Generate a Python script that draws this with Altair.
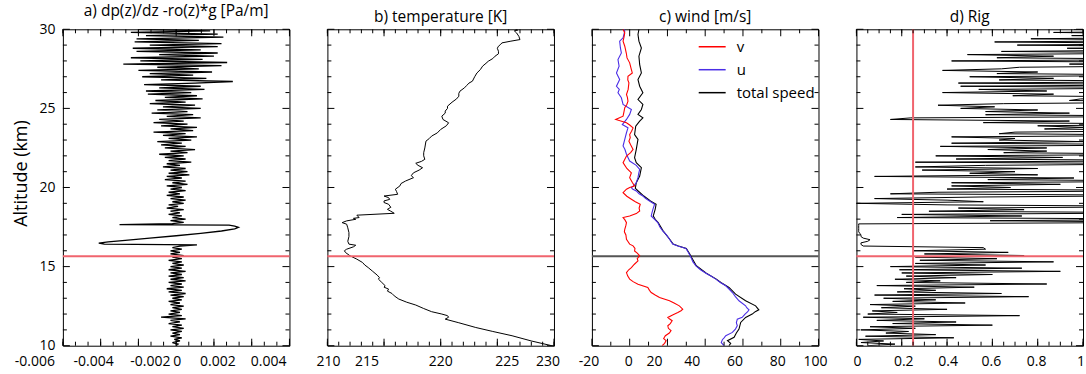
import altair as alt
import pandas as pd

W, H = 227, 317
FONT = "Open Sans"
TROP = 15.65
RED = "#f0646e"

# ---------------- panel a: dp/dz - rho*g  (values in 1e-4 Pa/m) ----------------
a_low_raw = [0, 1, -2, 2, -1, 3, -3, 2, -2, 3,
             -3, 4, -2, 3, -4, 2, -3, 5, -8, 3,
             -4, 2, -3, 3, -2, 4, -3, 2, -4, 3,
             -2, 4, -3, 5, -4, 3, -5, 4, -3, 3,
             -4, 5, -3, 4, -4, 3, -3, 5, -4, 3,
             -3, 4, -2, 3, -4, 3, -2, 4, -3, 2,
             -3, 3, -2, 2]
a_low_alt = [round(10 + 0.1 * i, 2) for i in range(len(a_low_raw))]
a_s_alt = [16.37, 16.42, 16.48, 16.56, 16.66, 16.8, 16.95, 17.1, 17.25, 17.38,
           17.48, 17.56, 17.62, 17.65, 17.72]
a_s_raw = [11, -38, -41, -36, -27, -14, 0, 13, 24, 31, 33, 31, 28, -30, -2]
a_high_raw = [4, -3,
              5, -2, 3, -4, 2, -3, 4, -5, 1, -4,
              4, -2, 5, -3, 4, -5, 2, -4, 5, -3,
              3, -5, 6, -2, 5, -6, 3, -5, 7, -4,
              6, -3, 5, -7, 2, -5, 8, -4, 5, -6,
              4, -9, 6, -3, 10, -6, 5, -8, 3, -10,
              8, -4, 11, -7, 5, -12, 9, -3, 11, -8,
              6, -12, 4, -9, 13, -5, 9, -13, 6, -10,
              13, -7, 10, -14, 5, -11, 14, -6, 11, -15,
              8, -16, 15, -9, 13, -17, 10, 30, -8, 16,
              -18, 9, -14, 19, -20, 12, -10, 24, -28, 27,
              -19, 14, -24, 20, -9, 22, -21, 13, -23, 22,
              -14, 24, -22, 12, -21, 25, -16, 22, -24, 18,
              -20]
a_high_alt = [round(17.8 + 0.1 * i, 2) for i in range(len(a_high_raw))]
a_alt = a_low_alt + a_s_alt + a_high_alt
a_val = [v * 1e-4 for v in a_low_raw + a_s_raw + a_high_raw]

# ---------------- panel b: temperature ----------------
t_alt = [10.0, 10.3, 10.63, 10.9, 11.15, 11.45, 11.68, 11.8, 11.9, 12.0, 12.15, 12.35, 12.57, 12.75,
         12.95, 13.15, 13.3, 13.45, 13.58, 13.7, 13.79, 14.0, 14.21, 14.3, 14.46, 14.7, 14.94, 15.1,
         15.26, 15.47, 15.68, 15.89, 16.0, 16.1, 16.25, 16.35, 16.42, 16.6, 16.9, 17.15, 17.45,
         17.68, 17.78, 17.89, 17.99, 18.05, 18.1, 18.25, 18.37, 18.5, 18.62, 18.75, 18.94, 19.05,
         19.15, 19.25, 19.36, 19.46, 19.57, 19.75, 19.89, 20.1, 20.25, 20.41, 20.62, 20.75, 20.93,
         21.1, 21.25, 21.4, 21.53, 21.65, 21.78, 22.0, 22.2, 22.5, 22.93, 23.1, 23.25, 23.45, 23.67,
         23.9, 24.09, 24.3, 24.51, 24.7, 24.83, 25.0, 25.14, 25.39, 25.6, 25.77, 25.95, 26.09, 26.3,
         26.45, 26.6, 26.72, 27.0, 27.24, 27.45, 27.67, 27.85, 27.98, 28.15, 28.3, 28.45, 28.61,
         28.8, 28.93, 29.05, 29.14, 29.25, 29.35, 29.55, 29.77, 29.9, 29.95, 30.0]
t_val = [229.8, 228.0, 226.3, 224.6, 223.1, 221.6, 220.4, 220.7, 220.6, 220.1, 219.2, 218.5, 217.8,
         217.0, 216.3, 215.9, 215.7, 215.3, 215.4, 215.0, 215.1, 214.8, 214.5, 214.6, 214.4, 214.0,
         213.6, 213.3, 213.1, 212.6, 212.0, 211.6, 211.5, 211.7, 212.3, 212.5, 211.9, 211.8, 211.9,
         211.9, 211.8, 211.7, 211.3, 211.7, 212.5, 212.3, 212.8, 212.6, 215.9, 215.6, 215.3, 215.6,
         215.4, 215.0, 215.0, 215.5, 215.4, 215.0, 216.2, 216.1, 216.0, 216.4, 216.5, 216.9, 217.6,
         217.4, 217.6, 218.1, 218.4, 218.0, 217.8, 218.3, 218.6, 218.5, 218.5, 218.6, 218.7, 219.0,
         219.2, 219.7, 220.0, 220.5, 220.7, 220.2, 220.1, 220.4, 220.4, 220.6, 220.6, 221.0, 221.4,
         221.6, 221.6, 221.7, 222.1, 222.3, 222.5, 222.8, 223.0, 223.2, 223.5, 223.7, 224.0, 224.2,
         224.6, 224.8, 225.1, 225.1, 225.0, 225.1, 225.3, 225.4, 226.2, 227.0, 226.9, 226.7, 226.5,
         226.8, 226.6]

# ---------------- panel c: wind ----------------
v_alt = [10.0, 10.15, 10.32, 10.45, 10.63, 10.8, 10.95, 11.1, 11.26, 11.4, 11.58, 11.7, 11.79, 11.95,
         12.1, 12.21, 12.31, 12.52, 12.7, 12.84, 13.05, 13.2, 13.36, 13.5, 13.68, 13.89, 14.05,
         14.21, 14.4, 14.62, 14.8, 14.94, 15.15, 15.36, 15.5, 15.68, 15.85, 15.99, 16.15, 16.31,
         16.42, 16.6, 16.73, 17.0, 17.2, 17.36, 17.6, 17.78, 17.95, 18.1, 18.2, 18.35, 18.52, 18.7,
         18.94, 19.1, 19.26, 19.45, 19.67, 19.89, 20.0, 20.1, 20.3, 20.62, 20.93, 21.2, 21.57, 21.8,
         21.99, 22.2, 22.41, 22.7, 22.93, 23.15, 23.35, 23.55, 23.77, 23.95, 24.09, 24.3, 24.51,
         24.8, 25.04, 25.25, 25.46, 25.7, 25.88, 26.2, 26.61, 26.8, 27.03, 27.24, 27.5, 27.88,
         28.19, 28.5, 28.93, 29.25, 29.5, 29.77, 30.0]
v_val = [17.2, 18.5, 19.3, 18.0, 18.9, 21.0, 21.9, 20.5, 20.2, 21.5, 22.5, 21.0, 20.2, 23.0, 25.5,
         27.2, 28.1, 26.3, 23.5, 21.1, 15.8, 13.5, 11.4, 10.5, 9.6, 4.4, 1.8, 0.0, -1.0, -1.7, -0.5,
         0.9, 2.5, 4.4, 4.0, 5.3, 4.0, 2.6, 2.8, 1.8, 0.0, -1.0, -1.7, -2.0, -2.8, -2.6, -2.0, -1.7,
         -2.5, -3.5, 0.0, 3.5, 5.3, 5.0, 5.6, 3.0, 0.9, -1.5, -3.5, -1.7, 0.0, 2.6, 1.5, 0.0, 0.9,
         -1.5, -3.5, -2.5, -1.7, 0.5, 1.8, 0.5, -0.4, 0.3, 0.0, 1.0, 1.8, 0.0, -1.7, -7.4, -3.5,
         -3.0, -2.6, -1.5, -0.9, -1.2, -1.7, -0.8, -0.4, -1.0, -0.9, 1.4, 0.8, 0.0, -1.4, -1.8,
         -2.6, -3.5, -3.0, -2.6, -3.5]
u_alt = [10.0, 10.2, 10.38, 10.5, 10.63, 10.84, 11.05, 11.26, 11.45, 11.68, 11.79, 12.0, 12.15, 12.27,
         12.4, 12.52, 12.84, 13.1, 13.36, 13.6, 13.79, 14.0, 14.21, 14.4, 14.58, 14.8, 15.05, 15.3,
         15.57, 15.78, 15.95, 16.14, 16.3, 16.42, 16.73, 17.0, 17.26, 17.5, 17.78, 17.99, 18.2,
         18.4, 18.62, 18.94, 19.15, 19.3, 19.46, 19.6, 19.78, 19.9, 20.0, 20.15, 20.3, 20.62, 20.9,
         21.15, 21.4, 21.67, 22.1, 22.4, 22.62, 23.04, 23.46, 23.77, 23.98, 24.3, 24.62, 24.93,
         25.25, 25.67, 25.99, 26.2, 26.4, 26.82, 27.24, 27.67, 28.09, 28.5, 28.82, 29.25, 29.46,
         29.88, 30.0]
u_val = [50.0, 48.5, 49.1, 50.0, 50.9, 54.4, 56.0, 57.0, 56.5, 57.0, 59.6, 61.1, 62.5, 63.2, 62.0,
         61.4, 57.9, 56.0, 54.4, 52.5, 50.9, 48.0, 45.6, 43.0, 40.4, 37.5, 35.1, 33.5, 32.5, 31.6,
         30.8, 29.8, 25.5, 22.8, 21.1, 19.5, 17.5, 16.0, 14.9, 13.2, 11.4, 11.8, 12.3, 13.2, 10.5,
         8.5, 7.0, 5.0, 3.5, 1.5, 0.9, 2.5, 3.5, 4.4, 4.8, 5.3, 3.5, 0.0, -1.7, -2.5, -3.5, -2.6,
         -1.7, -0.9, -3.9, -1.7, 0.0, 0.9, -3.5, -4.4, -6.2, -5.5, -7.0, -5.3, -7.0, -5.6, -6.2,
         -4.4, -4.9, -5.3, -3.5, -2.6, -3.0]
s_alt = [10.0, 10.15, 10.32, 10.53, 10.8, 11.05, 11.47, 11.79, 12.0, 12.15, 12.27, 12.52, 12.84,
         13.26, 13.68, 14.0, 14.21, 14.58, 15.05, 15.57, 15.78, 16.14, 16.3, 16.42, 16.73, 17.26,
         17.78, 17.99, 18.2, 18.62, 18.94, 19.15, 19.46, 19.78, 19.95, 20.1, 20.3, 20.72, 21.25,
         21.57, 21.88, 22.41, 23.04, 23.35, 23.88, 24.2, 24.4, 24.62, 24.93, 25.25, 25.56, 25.99,
         26.4, 26.82, 27.24, 27.77, 28.3, 28.82, 29.25, 29.67, 30.0]
s_val = [52.6, 53.5, 51.8, 55.3, 56.5, 57.9, 58.8, 61.4, 64.9, 66.5, 68.4, 66.7, 61.4, 56.1, 52.6,
         48.3, 45.9, 40.6, 35.3, 32.8, 31.9, 30.0, 25.8, 23.0, 21.2, 17.7, 15.1, 13.5, 12.5, 13.5,
         14.0, 11.0, 7.5, 4.5, 3.0, 3.2, 3.5, 5.3, 6.2, 3.5, 2.6, 3.5, 4.4, 2.6, 3.2, 5.3, 7.0,
         4.4, 6.2, 7.0, 4.4, 7.0, 5.3, 4.4, 6.2, 5.3, 4.9, 6.2, 4.9, 4.4, 4.9]

# ---------------- panel d: gradient Richardson number ----------------
rig_val = [0.05, 0.17, 0.02, 0.12, 0.01, 0.43, 0.04, 0.35, 0.13, 0.23,
           0.02, 0.26, 0.06, 0.60, 0.16, 0.44, 0.09, 0.30, 0.03, 0.72,
           0.05, 0.18, 0.07, 0.40, 0.11, 0.26, 0.06, 0.48, 0.16, 0.35,
           0.12, 0.76, 0.08, 0.64, 0.18, 0.35, 0.21, 0.52, 0.09, 0.84,
           0.22, 0.37, 0.17, 0.44, 0.22, 0.60, 0.20, 0.90, 0.19, 0.73,
           0.15, 0.57, 0.26, 0.87, 0.28, 0.62, 0.26, 0.74, 0.30, 0.67,
           0.25, 0.57, 0.56, 0.03, 0.02, 0.02, 0.05, 0.06, 0.03, 0.02,
           0.02, 0.015, 0.01, 0.01, 0.01, 0.01, 0.01, 0.01, 1.5, 0.59,
           1.5, 0.18, 0.73, 0.20, 1.5, 0.32, 0.74, 0.45, 1.5, 0.40,
           0.0, 0.56, 0.40, 0.08, 0.55, 1.5, 0.15, 0.36, 1.5, 0.40,
           0.68, 0.42, 0.90, 0.42, 1.5, 0.58, 0.96, 0.08, 0.80, 0.50,
           0.70, 0.29, 0.80, 0.26, 0.57, 1.5, 0.26, 1.5, 0.44, 0.91,
           0.35, 1.5, 0.65, 0.84, 0.58, 0.84, 0.37, 1.5, 0.42, 1.0,
           0.63, 0.70, 0.42, 1.5, 0.63, 0.70, 1.5, 0.83, 1.0, 0.80,
           1.5, 0.56, 0.94, 0.15, 0.24, 1.5, 0.57, 0.94, 0.57, 0.80,
           0.46, 0.61, 0.36, 0.65, 1.5, 0.94, 0.99, 1.5, 0.69, 0.87,
           0.38, 0.84, 0.54, 1.5, 0.46, 1.5, 0.45, 1.5, 0.63, 0.87,
           0.50, 1.5, 0.62, 0.80, 0.38, 0.64, 0.72, 1.5, 0.94, 1.5,
           0.42, 1.5, 0.62, 0.87, 0.49, 1.5, 0.64, 1.5, 0.93, 1.5,
           0.71, 1.5, 0.61, 1.5, 0.77, 1.5, 0.95, 1.5, 0.87, 1.5,
           0.96]
rig_alt = [round(10 + 0.1 * i, 2) for i in range(len(rig_val))]

# ---------------- axis tick values and tick labels ----------------
y_major = [10, 15, 20, 25, 30]
y_minor = [11, 12, 13, 14, 16, 17, 18, 19, 21, 22, 23, 24, 26, 27, 28, 29]
a_major = [-0.006, -0.004, -0.002, 0, 0.002, 0.004, 0.006]
a_minor = [round(-0.006 + i * 0.002 / 3, 6) for i in range(19)]
b_major = [210, 215, 220, 225, 230]
b_minor = list(range(210, 231))
c_major = [-20, 0, 20, 40, 60, 80, 100]
c_minor = [-10, 10, 30, 50, 70, 90]
d_major = [0, 0.2, 0.4, 0.6, 0.8, 1]
d_minor = [round(i * 0.05, 2) for i in range(21)]

# tick labels: (value, text, pixel nudge to match the reference's placement)
a_ticklabels = [(-0.006, "-0.006", -28), (-0.004, "-0.004", -7), (-0.002, "-0.002", 12),
                (0, "0", 1), (0.002, "0.002", 4), (0.004, "0.004", 17)]
b_ticklabels = [(210, "210", 1), (215, "215", -17), (220, "220", 0), (225, "225", 10),
                (230, "230", -6)]
c_ticklabels = [(-20, "-20", -3), (0, "0", -1), (20, "20", -13), (40, "40", -13), (60, "60", -8),
                (80, "80", -3), (100, "100", -3)]
d_ticklabels = [(0, "0", 1), (0.2, "0.2", 2), (0.4, "0.4", 1), (0.6, "0.6", -1), (0.8, "0.8", -1),
                (1, "1", -2)]

YS = alt.Scale(domain=[10, 30], nice=False, zero=False)
NOAX = None

Y_AXIS_A = alt.Axis(values=y_major, title="Altitude (km)", ticks=False, grid=False, domain=False,
                    labelFlush=False, labelPadding=8, labelFontSize=14, labelFont=FONT,
                    titleFont=FONT, titleFontSize=18, titleFontWeight="normal", titlePadding=8,
                    titleY=144, labelColor="black", titleColor="black")


def label_layers(xs, labels):
    out = []
    for shift in sorted(set(s for _, _, s in labels)):
        df = pd.DataFrame({"v": [v for v, _, s in labels if s == shift],
                           "txt": [t for _, t, s in labels if s == shift]})
        out.append(alt.Chart(df).mark_text(dx=shift, fontSize=14, font=FONT, color="black",
                                           baseline="top").encode(
            x=alt.X("v:Q", scale=xs, axis=NOAX), y=alt.value(H + 9), text="txt:N"))
    return out


def tick_layers(xs, yax, xmaj, xmin):
    out = []
    for vals, L in ((y_major, 7), (y_minor, 4)):
        base = alt.Chart(pd.DataFrame({"alt": vals})).mark_rule(color="black", strokeWidth=1)
        y = alt.Y("alt:Q", scale=YS, axis=yax)
        out.append(base.encode(y=y, x=alt.value(0), x2=alt.value(L)))
        out.append(base.encode(y=y, x=alt.value(W), x2=alt.value(W - L)))
    for vals, L in ((xmaj, 7), (xmin, 4)):
        base = alt.Chart(pd.DataFrame({"v": vals})).mark_rule(color="black", strokeWidth=1)
        x = alt.X("v:Q", scale=xs, axis=NOAX)
        out.append(base.encode(x=x, y=alt.value(H), y2=alt.value(H - L)))
        out.append(base.encode(x=x, y=alt.value(0), y2=alt.value(L)))
    return out


def trop(color, yax):
    return alt.Chart(pd.DataFrame({"alt": [TROP]})).mark_rule(color=color, strokeWidth=2).encode(
        y=alt.Y("alt:Q", scale=YS, axis=yax))


def title(t):
    return alt.TitleParams(text=t, fontSize=15.5, font=FONT, fontWeight="normal", offset=3,
                           color="black")


def panel(main_layers, xs, yax, xmaj, xmin, labels, ttl):
    layers = list(main_layers) + tick_layers(xs, yax, xmaj, xmin) + label_layers(xs, labels)
    return alt.layer(*layers).properties(width=W, height=H, title=title(ttl))


# panel a
xs_a = alt.Scale(domain=[-0.006, 0.006], nice=False, zero=False)
line_a = alt.Chart(pd.DataFrame({"alt": a_alt, "v": a_val})).mark_line(
    color="black", strokeWidth=1.3, clip=True).encode(
    x=alt.X("v:Q", scale=xs_a, axis=NOAX),
    y=alt.Y("alt:Q", scale=YS, axis=Y_AXIS_A),
    order="alt:Q")
pa = panel([line_a, trop(RED, Y_AXIS_A)], xs_a, Y_AXIS_A, a_major, a_minor, a_ticklabels,
           "a) dp(z)/dz -ro(z)*g [Pa/m]")

# panel b
xs_b = alt.Scale(domain=[210, 230], nice=False, zero=False)
line_b = alt.Chart(pd.DataFrame({"alt": t_alt, "v": t_val})).mark_line(
    color="black", strokeWidth=1, clip=True).encode(
    x=alt.X("v:Q", scale=xs_b, axis=NOAX),
    y=alt.Y("alt:Q", scale=YS, axis=None),
    order="alt:Q")
pb = panel([line_b, trop(RED, None)], xs_b, None, b_major, b_minor, b_ticklabels,
           "b) temperature [K]")

# panel c
wind = pd.concat([
    pd.DataFrame({"alt": s_alt, "v": s_val, "series": "total speed"}),
    pd.DataFrame({"alt": u_alt, "v": u_val, "series": "u"}),
    pd.DataFrame({"alt": v_alt, "v": v_val, "series": "v"}),
], ignore_index=True)
xs_c = alt.Scale(domain=[-20, 100], nice=False, zero=False)
line_c = alt.Chart(wind).mark_line(strokeWidth=1.1, clip=True).encode(
    x=alt.X("v:Q", scale=xs_c, axis=NOAX),
    y=alt.Y("alt:Q", scale=YS, axis=None),
    color=alt.Color("series:N",
                    scale=alt.Scale(domain=["v", "u", "total speed"],
                                    range=["#ff0000", "#4b2ee6", "#000000"]),
                    legend=alt.Legend(orient="none", legendX=106, legendY=3, title=None,
                                      symbolType="stroke", symbolSize=729,
                                      symbolStrokeWidth=1.5, labelFontSize=15,
                                      labelFont=FONT, labelColor="black", rowPadding=-11,
                                      labelOffset=10, padding=0)),
    order="alt:Q")
pc = panel([trop("#555555", None), line_c], xs_c, None, c_major, c_minor, c_ticklabels,
           "c) wind [m/s]")

# panel d
xs_d = alt.Scale(domain=[0, 1], nice=False, zero=False)
line_d = alt.Chart(pd.DataFrame({"alt": rig_alt, "v": rig_val})).mark_line(
    color="black", strokeWidth=1, clip=True).encode(
    x=alt.X("v:Q", scale=xs_d, axis=NOAX),
    y=alt.Y("alt:Q", scale=YS, axis=None),
    order="alt:Q")
crit = alt.Chart(pd.DataFrame({"v": [0.25]})).mark_rule(color=RED, strokeWidth=2).encode(
    x=alt.X("v:Q", scale=xs_d, axis=NOAX))
pd_ = panel([line_d, trop(RED, None), crit], xs_d, None, d_major, d_minor, d_ticklabels,
            "d) Rig")

chart = alt.hconcat(pa, pb, pc, pd_, spacing=38, bounds="flush").resolve_scale(
    color="independent").resolve_legend(color="independent").properties(
    padding={"left": 12, "top": 3, "right": 0, "bottom": 0},
    background="white").configure_view(stroke="black", strokeWidth=1)

chart.save("out.html", embed_options={"renderer": "svg", "actions": False})
